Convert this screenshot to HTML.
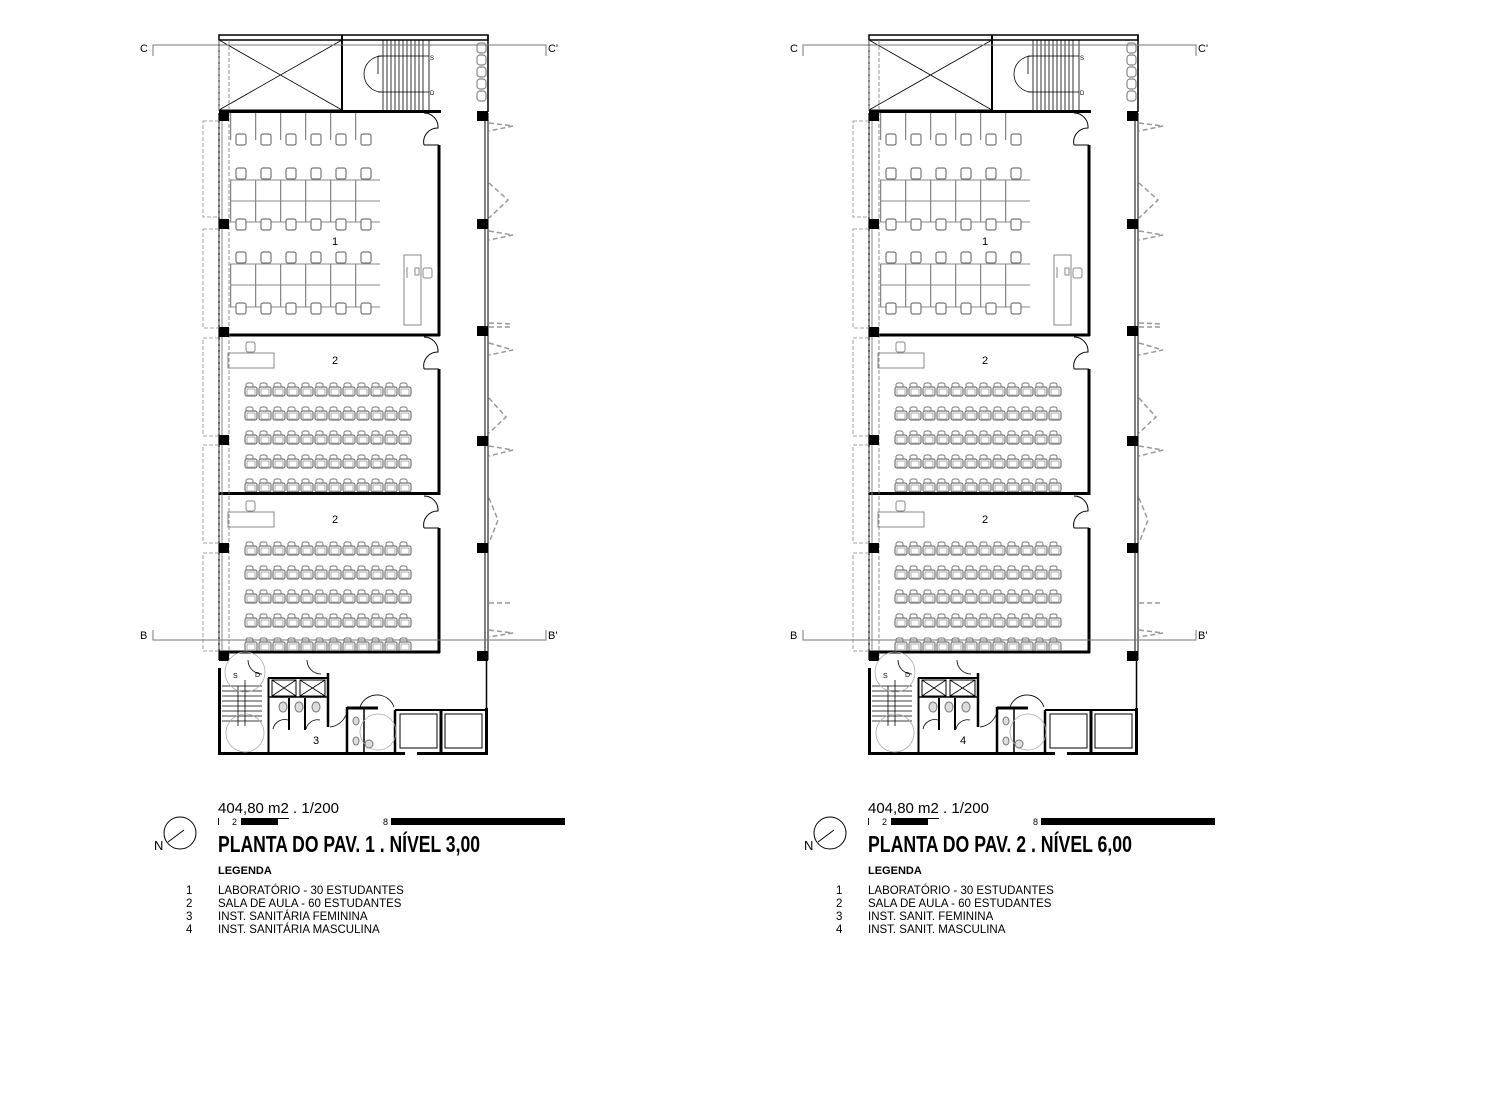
<!DOCTYPE html>
<html><head><meta charset="utf-8"><style>
html,body{margin:0;padding:0;background:#fff;}
svg{display:block;}
.t{font-family:"Liberation Sans",sans-serif;fill:#000;}
.title{font-family:"Liberation Sans Narrow","Liberation Sans",sans-serif;font-weight:bold;font-size:23px;fill:#000;}
</style></head><body>
<svg width="1490" height="1114" viewBox="0 0 1490 1114" xmlns="http://www.w3.org/2000/svg">
<defs>
<pattern id="seat" x="244" y="382" width="14" height="24" patternUnits="userSpaceOnUse">
  <path d="M2,6 v-3 a2,2 0 0 1 2,-2 h3 a2,2 0 0 1 2,2 v3" fill="#fff" stroke="#777" stroke-width="1"/>
  <rect x="1" y="5" width="12" height="9" rx="2" fill="#fff" stroke="#777" stroke-width="1.2"/>
  <rect x="3" y="7" width="8" height="6" fill="#fff" stroke="#999" stroke-width="0.8"/>
</pattern>
<pattern id="seat2" x="244" y="541" width="14" height="24" patternUnits="userSpaceOnUse">
  <path d="M2,6 v-3 a2,2 0 0 1 2,-2 h3 a2,2 0 0 1 2,2 v3" fill="#fff" stroke="#777" stroke-width="1"/>
  <rect x="1" y="5" width="12" height="9" rx="2" fill="#fff" stroke="#777" stroke-width="1.2"/>
  <rect x="3" y="7" width="8" height="6" fill="#fff" stroke="#999" stroke-width="0.8"/>
</pattern>
<pattern id="lab" x="230" y="0" width="25" height="400" patternUnits="userSpaceOnUse">
  <line x1="0.5" y1="0" x2="0.5" y2="400" stroke="#888" stroke-width="1.5"/>
</pattern>
<g id="plan">
  <rect x="219" y="35" width="269" height="5" fill="none" stroke="#000" stroke-width="1.5"/>
  <line x1="342" y1="35" x2="342" y2="40" stroke="#000" stroke-width="2"/>
  <rect x="219" y="40" width="123" height="70" fill="none" stroke="#000" stroke-width="1"/>
  <line x1="219" y1="40" x2="342" y2="110" stroke="#000" stroke-width="0.8"/>
  <line x1="342" y1="40" x2="219" y2="110" stroke="#000" stroke-width="0.8"/>
  <line x1="342" y1="40" x2="342" y2="112" stroke="#000" stroke-width="2"/>
  <g stroke="#000" stroke-width="0.8">
    <line x1="383" y1="40" x2="383" y2="110"/><line x1="387" y1="40" x2="387" y2="110"/>
    <line x1="391" y1="40" x2="391" y2="110"/><line x1="395" y1="40" x2="395" y2="110"/>
    <line x1="399" y1="40" x2="399" y2="110"/><line x1="403" y1="40" x2="403" y2="110"/>
    <line x1="407" y1="40" x2="407" y2="110"/><line x1="411" y1="40" x2="411" y2="110"/>
    <line x1="415" y1="40" x2="415" y2="110"/><line x1="419" y1="40" x2="419" y2="110"/>
    <line x1="423" y1="40" x2="423" y2="110"/><line x1="429" y1="40" x2="429" y2="110"/>
    <line x1="378" y1="56" x2="429" y2="56"/><line x1="378" y1="92" x2="429" y2="92"/>
    <line x1="378" y1="56" x2="378" y2="74"/>
  </g>
  <path d="M382,56 A18,18 0 0 0 382,92" fill="none" stroke="#000" stroke-width="0.8"/>
  <text x="430" y="60" class="t" font-size="6">S</text><text x="430" y="95" class="t" font-size="6">D</text>
  <g fill="#fff" stroke="#888" stroke-width="1.2">
    <rect x="477" y="43" width="9" height="10" rx="3"/><rect x="477" y="55" width="9" height="10" rx="3"/>
    <rect x="477" y="67" width="9" height="10" rx="3"/><rect x="477" y="79" width="9" height="10" rx="3"/>
    <rect x="477" y="91" width="9" height="10" rx="3"/>
  </g>
  <line x1="488" y1="35" x2="488" y2="112" stroke="#000" stroke-width="1.5"/>
  <g stroke="#000" stroke-width="3" fill="none">
    <line x1="219" y1="111.5" x2="441" y2="111.5"/>
    <line x1="219" y1="335" x2="440" y2="335"/>
    <line x1="219" y1="493.5" x2="440" y2="493.5"/>
    <line x1="219" y1="652" x2="440" y2="652"/>
    <line x1="439" y1="145" x2="439" y2="336"/>
    <line x1="439" y1="369" x2="439" y2="495"/>
    <line x1="439" y1="528" x2="439" y2="653"/>
  </g>
  <g stroke="#000" stroke-width="1" fill="none">
    <line x1="424" y1="145" x2="439" y2="145"/><line x1="424" y1="369" x2="439" y2="369"/><line x1="424" y1="528" x2="439" y2="528"/>
    <path d="M424,113 A14,14 0 0 1 438,128 A14,14 0 0 0 424,145"/>
    <path d="M424,337 A14,14 0 0 1 438,352 A14,14 0 0 0 424,369"/>
    <path d="M424,496 A14,14 0 0 1 438,511 A14,14 0 0 0 424,528"/>
  </g>
  <line x1="219" y1="113" x2="219" y2="660" stroke="#000" stroke-width="1.2"/>
  <line x1="222" y1="113" x2="222" y2="660" stroke="#888" stroke-width="1"/>
  <line x1="229" y1="40" x2="229" y2="660" stroke="#777" stroke-width="0.8" stroke-dasharray="4,2"/>
  <line x1="219" y1="40" x2="219" y2="110" stroke="#777" stroke-width="0.8" stroke-dasharray="4,2"/>
  <g fill="none" stroke="#888" stroke-width="0.8" stroke-dasharray="4,2">
    <rect x="203" y="121" width="16" height="96"/><rect x="203" y="229" width="16" height="99"/>
    <rect x="203" y="338" width="16" height="98"/><rect x="203" y="445" width="16" height="98"/>
    <rect x="203" y="553" width="16" height="98"/>
  </g>
  <line x1="485" y1="113" x2="485" y2="660" stroke="#000" stroke-width="1"/>
  <line x1="488" y1="113" x2="488" y2="660" stroke="#000" stroke-width="1"/>
  <g fill="#000">
    <rect x="219" y="111" width="10" height="10"/><rect x="219" y="219" width="10" height="10"/>
    <rect x="219" y="327" width="10" height="10"/><rect x="219" y="435" width="10" height="10"/>
    <rect x="219" y="543" width="10" height="10"/><rect x="219" y="651" width="10" height="10"/>
    <rect x="477" y="111" width="11" height="10"/><rect x="477" y="219" width="11" height="10"/>
    <rect x="477" y="326" width="11" height="10"/><rect x="477" y="436" width="11" height="10"/>
    <rect x="477" y="543" width="11" height="10"/><rect x="477" y="651" width="11" height="10"/>
  </g>
  <g fill="none" stroke="#999" stroke-width="1.5" stroke-dasharray="5,3">
    <path d="M489,123 L513,126 L489,131"/>
    <path d="M489,183 L508,200 L489,218"/>
    <path d="M489,231 L513,235 L489,240"/>
    <path d="M489,323 L513,324"/><path d="M489,327 L513,327"/>
    <path d="M489,343 L513,350 L489,355"/>
    <path d="M489,398 L506,417 L489,433"/>
    <path d="M489,446 L513,450 L489,456"/>
    <path d="M489,498 L498,520 L489,543"/>
    <path d="M489,603 L513,603"/>
    <path d="M489,630 L513,633 L489,637"/>
  </g>
  <rect x="230" y="113" width="150" height="27" fill="url(#lab)"/>
  <rect x="230" y="180" width="150" height="42" fill="url(#lab)"/>
  <rect x="230" y="264" width="150" height="43" fill="url(#lab)"/>
  <g stroke="#888" stroke-width="1">
    <line x1="230" y1="180" x2="380" y2="180"/><line x1="230" y1="201" x2="380" y2="201"/><line x1="230" y1="222" x2="380" y2="222"/>
    <line x1="230" y1="264" x2="380" y2="264"/><line x1="230" y1="285" x2="380" y2="285"/><line x1="230" y1="307" x2="380" y2="307"/>
  </g>
  <g fill="#fff" stroke="#777" stroke-width="1.2">
    <rect x="236" y="134" width="10" height="11" rx="2"/><rect x="261" y="134" width="10" height="11" rx="2"/><rect x="286" y="134" width="10" height="11" rx="2"/><rect x="311" y="134" width="10" height="11" rx="2"/><rect x="336" y="134" width="10" height="11" rx="2"/><rect x="361" y="134" width="10" height="11" rx="2"/>
    <rect x="236" y="168" width="10" height="11" rx="2"/><rect x="261" y="168" width="10" height="11" rx="2"/><rect x="286" y="168" width="10" height="11" rx="2"/><rect x="311" y="168" width="10" height="11" rx="2"/><rect x="336" y="168" width="10" height="11" rx="2"/><rect x="361" y="168" width="10" height="11" rx="2"/>
    <rect x="236" y="219" width="10" height="11" rx="2"/><rect x="261" y="219" width="10" height="11" rx="2"/><rect x="286" y="219" width="10" height="11" rx="2"/><rect x="311" y="219" width="10" height="11" rx="2"/><rect x="336" y="219" width="10" height="11" rx="2"/><rect x="361" y="219" width="10" height="11" rx="2"/>
    <rect x="236" y="252" width="10" height="11" rx="2"/><rect x="261" y="252" width="10" height="11" rx="2"/><rect x="286" y="252" width="10" height="11" rx="2"/><rect x="311" y="252" width="10" height="11" rx="2"/><rect x="336" y="252" width="10" height="11" rx="2"/><rect x="361" y="252" width="10" height="11" rx="2"/>
    <rect x="236" y="303" width="10" height="11" rx="2"/><rect x="261" y="303" width="10" height="11" rx="2"/><rect x="286" y="303" width="10" height="11" rx="2"/><rect x="311" y="303" width="10" height="11" rx="2"/><rect x="336" y="303" width="10" height="11" rx="2"/><rect x="361" y="303" width="10" height="11" rx="2"/>
  </g>
  <g fill="none" stroke="#888" stroke-width="1">
    <rect x="404" y="255" width="17" height="70"/><rect x="415" y="268" width="4" height="7"/>
    <rect x="423" y="268" width="9" height="10" rx="2"/><line x1="407" y1="267" x2="407" y2="278"/>
  </g>
  <g fill="none" stroke="#888" stroke-width="1">
    <rect x="228" y="353" width="46" height="15"/><rect x="246" y="342" width="9" height="10" rx="2"/>
    <rect x="228" y="512" width="46" height="15"/><rect x="246" y="501" width="9" height="10" rx="2"/>
  </g>
  <rect x="244" y="382" width="168" height="110" fill="url(#seat)"/>
  <rect x="244" y="541" width="168" height="110" fill="url(#seat2)"/>
  <g stroke="#000" fill="none">
    <line x1="219.5" y1="668" x2="219.5" y2="755" stroke-width="3"/>
    <line x1="218" y1="753.5" x2="405" y2="753.5" stroke-width="3"/>
    <line x1="417" y1="753.5" x2="488" y2="753.5" stroke-width="3"/>
    <line x1="486.5" y1="660" x2="486.5" y2="708" stroke-width="1.5"/>
    <line x1="486.5" y1="708" x2="486.5" y2="755" stroke-width="3"/>
    <line x1="268.5" y1="678" x2="268.5" y2="755" stroke-width="2"/>
    <line x1="268" y1="678" x2="328" y2="678" stroke-width="2"/>
    <line x1="268" y1="697" x2="328" y2="697" stroke-width="1.5"/>
    <line x1="328" y1="673" x2="328" y2="727" stroke-width="2.5"/>
    <rect x="272" y="680" width="24" height="16" stroke-width="1"/><rect x="300" y="680" width="25" height="16" stroke-width="1"/>
    <path d="M272,680 L296,696 M296,680 L272,696 M300,680 L325,696 M325,680 L300,696" stroke-width="0.8"/>
    <line x1="289" y1="698" x2="289" y2="730" stroke-width="2"/><line x1="305" y1="698" x2="305" y2="730" stroke-width="2"/>
    <line x1="347" y1="707" x2="347" y2="755" stroke-width="2.5"/>
    <line x1="347" y1="708" x2="378" y2="708" stroke-width="3"/>
    <line x1="364" y1="708" x2="364" y2="752" stroke-width="1.5"/>
    <line x1="395" y1="710" x2="395" y2="755" stroke-width="2.5"/>
    <line x1="395" y1="710" x2="488" y2="710" stroke-width="2"/>
    <line x1="441" y1="710" x2="441" y2="755" stroke-width="3"/>
    <rect x="400" y="714" width="37" height="34" stroke-width="1"/><rect x="445" y="714" width="37" height="34" stroke-width="1"/>
    <path d="M273,729 A12,12 0 0 1 288,720 M306,729 A12,12 0 0 1 320,720 M330,727 A20,20 0 0 0 346,715" stroke-width="0.8"/>
    <path d="M360,707 A18,18 0 0 1 394,707" stroke-width="0.8"/>
    <path d="M248,660 A14,14 0 0 0 262,674 M307,660 A14,14 0 0 0 321,674" stroke-width="0.8"/>
  </g>
  <g stroke="#000" stroke-width="0.8" fill="none">
    <line x1="222" y1="686" x2="262" y2="686"/><line x1="222" y1="691" x2="262" y2="691"/><line x1="222" y1="696" x2="262" y2="696"/>
    <line x1="222" y1="701" x2="262" y2="701"/><line x1="222" y1="706" x2="262" y2="706"/><line x1="222" y1="711" x2="262" y2="711"/>
    <line x1="222" y1="716" x2="262" y2="716"/><line x1="222" y1="721" x2="262" y2="721"/>
    <line x1="245" y1="680" x2="245" y2="726"/><line x1="238" y1="686" x2="238" y2="726"/>
  </g>
  <g fill="none" stroke="#aaa" stroke-width="0.8">
    <circle cx="245" cy="733" r="19"/><circle cx="245" cy="672" r="20"/><circle cx="378" cy="732" r="18"/>
  </g>
  <g fill="#ddd" stroke="#777" stroke-width="1">
    <ellipse cx="283" cy="707" rx="4" ry="5"/><ellipse cx="299" cy="707" rx="4" ry="5"/><ellipse cx="316" cy="707" rx="4" ry="5"/>
    <ellipse cx="356" cy="721" rx="3" ry="4"/><ellipse cx="356" cy="741" rx="3" ry="4"/><ellipse cx="369" cy="744" rx="4" ry="4"/>
  </g>
  <text x="233" y="678" class="t" font-size="7">S</text><text x="255" y="677" class="t" font-size="7">D</text>
  <g stroke="#777" stroke-width="1" fill="none">
    <path d="M153,56 V45 H546 V56"/>
    <path d="M153,630 V640 H546 V630"/>
  </g>
</g>
</defs>

<use href="#plan"/>
<use href="#plan" x="650"/>

<g class="t" font-size="11">
  <text x="140" y="52">C</text><text x="548" y="52">C'</text>
  <text x="140" y="639">B</text><text x="548" y="639">B'</text>
  <text x="790" y="52">C</text><text x="1198" y="52">C'</text>
  <text x="790" y="639">B</text><text x="1198" y="639">B'</text>
  <text x="332" y="245">1</text><text x="332" y="364">2</text><text x="332" y="523">2</text><text x="313" y="744">3</text>
  <text x="982" y="245">1</text><text x="982" y="364">2</text><text x="982" y="523">2</text><text x="960" y="744">4</text>
</g>

<g id="tb1">
  <circle cx="180" cy="833" r="16" fill="none" stroke="#000" stroke-width="1"/>
  <line x1="168" y1="842" x2="184" y2="830" stroke="#000" stroke-width="1"/>
  <rect x="218" y="818" width="1" height="7" fill="#000"/>
  <rect x="241" y="818" width="37" height="7" fill="#000"/>
  <rect x="277" y="818" width="12" height="1" fill="#000"/>
  <rect x="391" y="818" width="174" height="7" fill="#000"/>
</g>
<use href="#tb1" x="650"/>
<g class="t">
  <text x="218" y="813" font-size="15">404,80 m2   .   1/200</text>
  <text x="232" y="825" font-size="9">2</text><text x="383" y="825" font-size="9">8</text>
  <text x="154" y="850" font-size="13">N</text>
  <text x="218" y="852" class="title" textLength="262" lengthAdjust="spacingAndGlyphs">PLANTA DO PAV. 1  .  NÍVEL 3,00</text>
  <text x="218" y="874" font-size="11" font-weight="bold">LEGENDA</text>
  <g font-size="11.5">
    <text x="186" y="894">1</text><text x="218" y="894">LABORATÓRIO - 30 ESTUDANTES</text>
    <text x="186" y="907">2</text><text x="218" y="907">SALA DE AULA - 60 ESTUDANTES</text>
    <text x="186" y="920">3</text><text x="218" y="920">INST. SANITÁRIA FEMININA</text>
    <text x="186" y="933">4</text><text x="218" y="933">INST. SANITÁRIA MASCULINA</text>
  </g>
  <text x="868" y="813" font-size="15">404,80 m2   .   1/200</text>
  <text x="882" y="825" font-size="9">2</text><text x="1033" y="825" font-size="9">8</text>
  <text x="804" y="850" font-size="13">N</text>
  <text x="868" y="852" class="title" textLength="264" lengthAdjust="spacingAndGlyphs">PLANTA DO PAV. 2  .  NÍVEL 6,00</text>
  <text x="868" y="874" font-size="11" font-weight="bold">LEGENDA</text>
  <g font-size="11.5">
    <text x="836" y="894">1</text><text x="868" y="894">LABORATÓRIO - 30 ESTUDANTES</text>
    <text x="836" y="907">2</text><text x="868" y="907">SALA DE AULA - 60 ESTUDANTES</text>
    <text x="836" y="920">3</text><text x="868" y="920">INST. SANIT. FEMININA</text>
    <text x="836" y="933">4</text><text x="868" y="933">INST. SANIT. MASCULINA</text>
  </g>
</g>
</svg>
</body></html>
